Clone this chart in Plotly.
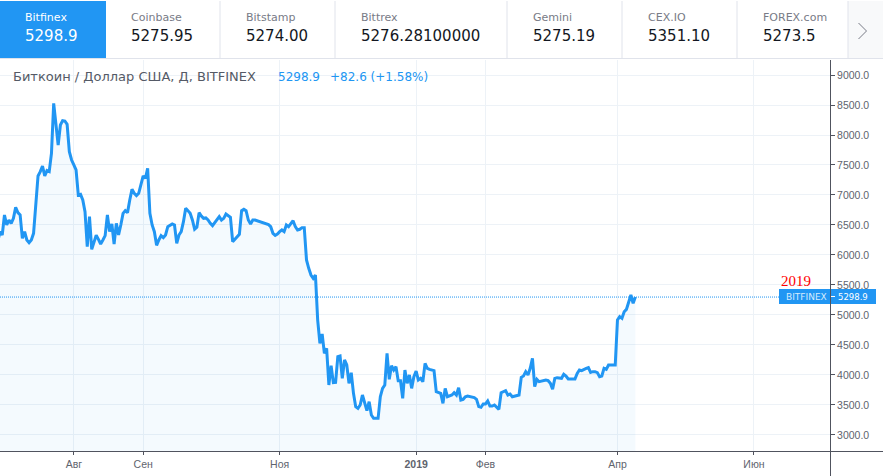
import pandas as pd
import plotly.graph_objects as go

# daily closes, last one is 2019-04-09
prices = [
    6222, 6389, 6333, 6667, 6500, 6583, 6528, 6611, 6794, 6706, 6667, 6278, 6389, 6250, 6206, 6250,
    6361, 6917, 7317, 7389, 7483, 7317, 7406, 7389, 7694, 8528, 8222, 7833, 8167, 8239, 8233, 8178,
    7722, 7583, 7500, 7417, 7000, 7011, 6917, 6722, 6139, 6639, 6094, 6206, 6328, 6261, 6183, 6250,
    6322, 6667, 6389, 6517, 6183, 6528, 6333, 6500, 6694, 6739, 6706, 6917, 7094, 7028, 6989, 7028,
    7167, 7317, 7278, 7444, 6694, 6500, 6389, 6161, 6250, 6322, 6289, 6333, 6472, 6489, 6517, 6500,
    6194, 6333, 6389, 6556, 6778, 6739, 6694, 6583, 6428, 6461, 6706, 6650, 6611, 6617, 6583, 6528,
    6489, 6540, 6583, 6639, 6583, 6611, 6683, 6661, 6628, 6222, 6267, 6306, 6344, 6739, 6761, 6739, 6583,
    6517, 6583, 6583, 6570, 6556, 6556, 6539, 6517, 6506, 6472, 6361, 6328, 6350, 6389, 6417, 6389, 6500,
    6472, 6517, 6572, 6472, 6417, 6428, 6456, 6456, 5917, 5778, 5667, 5611, 5667,
    4916, 4527, 4683, 4361, 4444, 3833, 4155, 3872, 3877, 4305, 4316, 3944, 4250, 4166, 3861, 4038,
    3694, 3472, 3444, 3500, 3666, 3538, 3405, 3555, 3333, 3277, 3277, 3277, 3638, 3777, 3833, 4361,
    3927, 4155, 4083, 4138, 3905, 3905, 3611, 4083, 3861, 4000, 3777, 3972, 4066, 3916, 3944, 3888,
    4194, 4111, 4094, 4085, 4072, 3722, 3705, 3694, 3527, 3777, 3638, 3650, 3666, 3705, 3666, 3788, 3583, 3594,
    3638, 3649, 3638, 3630, 3622, 3594, 3472, 3461, 3516, 3516, 3566, 3483, 3483,
    3500, 3461, 3427, 3705, 3722, 3739, 3666, 3683, 3638, 3649, 3655, 3666, 3961, 3983, 4055, 4000,
    4111, 4277, 3805, 3927, 3888, 3899, 3911, 3916, 3905, 3861, 3761, 3944, 3955, 3950, 3944, 4011,
    3983, 3933, 3933, 3927, 3933, 4027, 4083, 4072, 4094, 4111, 4122, 4044, 4055, 4055, 4039, 3972,
    3983, 4111, 4094, 4166, 4166, 4161, 4166, 4916, 4972, 4944, 5055, 5094, 5222, 5333, 5194, 5299,
]
dates = pd.date_range(end='2019-04-09', periods=len(prices)).strftime('%Y-%m-%d').tolist()

x_tick_dates = ['2018-08-01', '2018-09-01', '2018-11-01', '2019-01-01', '2019-02-01', '2019-04-01', '2019-06-01']
x_tick_labels = ['Авг', 'Сен', 'Ноя', '<b>2019</b>', 'Фев', 'Апр', 'Июн']
y_ticks = [3000, 3500, 4000, 4500, 5000, 5500, 6000, 6500, 7000, 7500, 8000, 8500, 9000]

exchanges = ['Bitfinex', 'Coinbase', 'Bitstamp', 'Bittrex', 'Gemini', 'CEX.IO', 'FOREX.com']
exchange_prices = ['5298.9', '5275.95', '5274.00', '5276.28100000', '5275.19', '5351.10', '5273.5']
last_price = 5298.9

BLUE = '#2196f3'
GRID = '#edf2f7'
AXIS = '#50535e'
FONT = 'DejaVu Sans'

# plot area in page pixels
LEFT, RIGHT, TOP, BOTTOM = 0, 830, 60, 451


def px(x):
    return (x - LEFT) / (RIGHT - LEFT)


def py(y):
    return (BOTTOM - y) / (BOTTOM - TOP)


def text(x, y, s, size, color, anchor='left', family=FONT):
    return dict(xref='paper', yref='paper', x=px(x), y=py(y), text=s, showarrow=False, xanchor=anchor,
                yanchor='middle', font=dict(family=family, size=size, color=color))


def rect(x0, y0, x1, y1, fill):
    return dict(type='rect', xref='paper', yref='paper', x0=px(x0), x1=px(x1), y0=py(y0), y1=py(y1),
                fillcolor=fill, line_width=0, layer='above')


def line(x0, y0, x1, y1, color, width=1):
    return dict(type='line', xref='paper', yref='paper', x0=px(x0), x1=px(x1), y0=py(y0), y1=py(y1),
                line=dict(color=color, width=width), layer='above')


fig = go.Figure()
fig.add_trace(go.Scatter(
    x=dates, y=prices, mode='lines', fill='tozeroy', fillcolor='rgba(33,150,243,0.05)',
    line=dict(color=BLUE, width=3), hoverinfo='skip', showlegend=False,
))

# tab strip
tab_text_x = [23, 129, 244, 359, 531, 646, 761]
tab_edges = [220, 335, 507, 622, 737, 848]
shapes = [
    rect(848, 1, 883, 58, '#f8f9fa'),
    rect(0, 1, 106, 58, BLUE),
    line(0, 58.5, 883, 58.5, '#e0e3eb'),
    line(858.5, 23, 866.5, 31, '#787b86'),
    line(866.5, 31, 858.5, 39, '#787b86'),
]
shapes += [line(e, 1, e, 58, '#e0e3eb') for e in tab_edges]

# last price line and tag
shapes.append(dict(type='line', xref='paper', yref='y', x0=0, x1=px(779), y0=last_price, y1=last_price,
                   line=dict(color=BLUE, width=1, dash='1px,1px'), layer='above'))
shapes.append(rect(779, 289, 876, 304, BLUE))
shapes.append(line(830.5, 289, 830.5, 304, 'white'))
shapes.append(line(831, 296.5, 835, 296.5, 'white'))

# axis lines run past the plot area
shapes.append(line(0, 451.5, 883, 451.5, AXIS))
shapes.append(line(830.5, 60, 830.5, 476, AXIS))

annotations = []
for i, name in enumerate(exchanges):
    annotations.append(text(tab_text_x[i], 17, name, 11, 'white' if i == 0 else '#787b86'))
    annotations.append(text(tab_text_x[i], 36, exchange_prices[i], 15, 'white' if i == 0 else '#131722'))

annotations += [
    text(11, 77, 'Биткоин / Доллар США, Д, BITFINEX', 13, '#555a66'),
    text(276, 77, '5298.9', 12, BLUE),
    text(328, 77, '+82.6 (+1.58%)', 12, BLUE),
    text(784, 296.5, 'BITFINEX', 9, '#d6ebfd'),
    text(836, 296.5, '5298.9', 8.5, 'white'),
    text(779, 281, '2019', 15, 'red', family='Liberation Serif'),
]

fig.update_layout(
    width=883, height=476,
    margin=dict(l=LEFT, r=883 - RIGHT, t=TOP, b=476 - BOTTOM, autoexpand=False),
    paper_bgcolor='white', plot_bgcolor='white',
    shapes=shapes, annotations=annotations,
    xaxis=dict(
        type='date', range=['2018-06-29', '2019-07-05'], tickmode='array',
        tickvals=x_tick_dates, ticktext=x_tick_labels, showgrid=True, gridcolor=GRID, gridwidth=1,
        ticks='outside', ticklen=3, tickcolor=AXIS, showline=False, zeroline=False,
        tickfont=dict(family='Liberation Sans', size=10.5, color='#60646e'),
    ),
    yaxis=dict(
        side='right', range=[2733, 9250], tickmode='array', tickvals=y_ticks, tickformat='.1f',
        showgrid=True, gridcolor=GRID, gridwidth=1, ticks='outside', ticklen=4, tickcolor=AXIS,
        showline=False, zeroline=False, tickfont=dict(family='Liberation Sans', size=10.5, color='#60646e'),
    ),
)

# browser default body margin would push the page 8px off
fig.write_html("out.html", config={'displayModeBar': False},
               post_script="document.body.style.margin='0';document.body.style.overflow='hidden';")
